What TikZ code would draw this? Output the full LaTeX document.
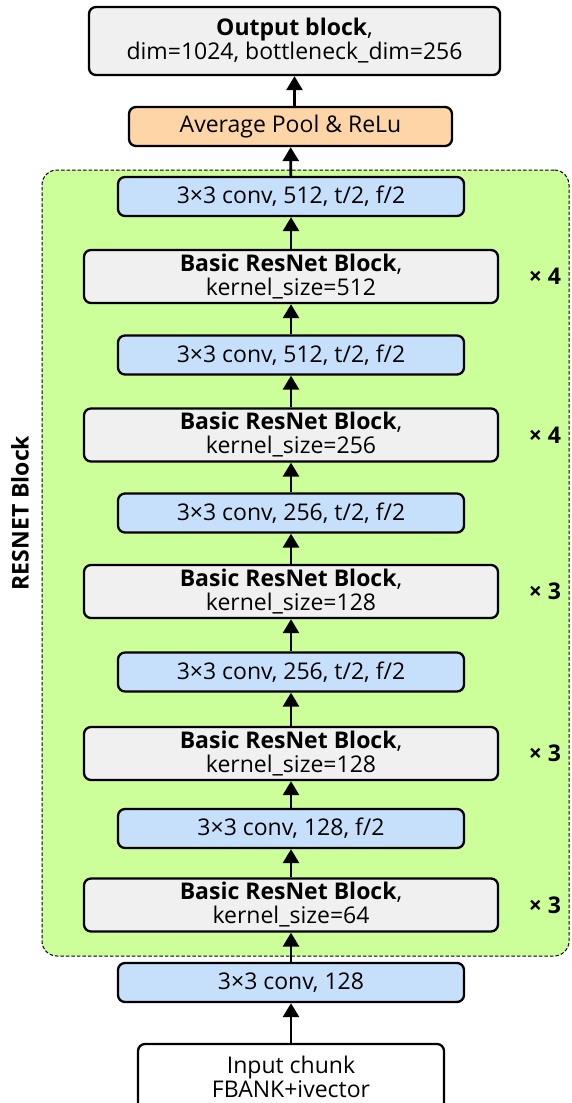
\documentclass[tikz,border=0pt]{standalone}
\usepackage{fontspec}
\setmainfont{Open Sans}
\usetikzlibrary{arrows.meta}

\definecolor{boxgray}{HTML}{F0F0F0}
\definecolor{convblue}{HTML}{C6E0FC}
\definecolor{poolorange}{HTML}{FDD5A6}
\definecolor{stagegreen}{HTML}{CCFF99}

\tikzset{
  x=1pt, y=-1pt,
  blk/.style={draw=black, line width=2.3pt, rounded corners=7pt, align=center,
    inner sep=0pt, font=\fontsize{23}{24}\selectfont},
  resblk/.style={blk, fill=boxgray, minimum width=414pt, minimum height=53pt},
  convblk/.style={blk, fill=convblue, minimum width=346pt, minimum height=39pt},
  flow/.style={line width=2.7pt, -{Triangle[length=14pt,width=16pt]}},
  reps/.style={font=\fontsize{23}{24}\selectfont\bfseries},
}

\begin{document}
\begin{tikzpicture}
\useasboundingbox (0,0) rectangle (571,1103);
\clip (0,0) rectangle (571,1103);

% stacked residual stages
\node[draw=black, dash pattern=on 3.5pt off 2pt, line width=1pt, fill=stagegreen,
  rounded corners=15pt, minimum width=527pt, minimum height=786pt, inner sep=0pt]
  (stage) at (305.5,563) {};
\node[rotate=90, font=\fontsize{23}{24}\selectfont\bfseries] (stagelbl) at (20,513) {RESNET Block};

% head
\node[blk, fill=boxgray, minimum width=411pt, minimum height=68pt] (out) at (294.5,41)
  {\textbf{Output block},\\dim=1024, bottleneck\_dim=256};
\node[blk, fill=poolorange, minimum width=323pt, minimum height=39pt] (pool) at (290.5,126.5)
  {Average Pool \& ReLu};

% body
\node[convblk] (c5) at (291,196.5) {3×3 conv, 512, t/2, f/2};
\node[resblk]  (b5) at (291,276.5) {\textbf{Basic ResNet Block},\\kernel\_size=512};
\node[convblk] (c4) at (291,355)   {3×3 conv, 512, t/2, f/2};
\node[resblk]  (b4) at (291,435)   {\textbf{Basic ResNet Block},\\kernel\_size=256};
\node[convblk] (c3) at (291,513)   {3×3 conv, 256, t/2, f/2};
\node[resblk]  (b3) at (291,591.5) {\textbf{Basic ResNet Block},\\kernel\_size=128};
\node[convblk] (c2) at (291,672)   {3×3 conv, 256, t/2, f/2};
\node[resblk]  (b2) at (291,753.5) {\textbf{Basic ResNet Block},\\kernel\_size=128};
\node[convblk] (c1) at (291,828.5) {3×3 conv, 128, f/2};
\node[resblk]  (b1) at (291,905)   {\textbf{Basic ResNet Block},\\kernel\_size=64};
\node[convblk] (c0) at (291,982.5) {3×3 conv, 128};

% input
\node[blk, fill=white, minimum width=306pt, minimum height=66pt] (inp) at (291,1077)
  {Input chunk\\FBANK+ivector};

% repetition counts
\node[reps] (r5) at (545,276.5) {× 4};
\node[reps] (r4) at (545,435)   {× 4};
\node[reps] (r3) at (545,591.5) {× 3};
\node[reps] (r2) at (545,753.5) {× 3};
\node[reps] (r1) at (545,905)   {× 3};

% data flow
\draw[flow] (inp) -- (c0);
\draw[flow] (c0) -- (b1);
\draw[flow] (b1) -- (c1);
\draw[flow] (c1) -- (b2);
\draw[flow] (b2) -- (c2);
\draw[flow] (c2) -- (b3);
\draw[flow] (b3) -- (c3);
\draw[flow] (c3) -- (b4);
\draw[flow] (b4) -- (c4);
\draw[flow] (c4) -- (b5);
\draw[flow] (b5) -- (c5);
\draw[flow] (c5) -- (pool);
\draw[flow] (pool.north -| out.south) -- (out.south);
\end{tikzpicture}
\end{document}
